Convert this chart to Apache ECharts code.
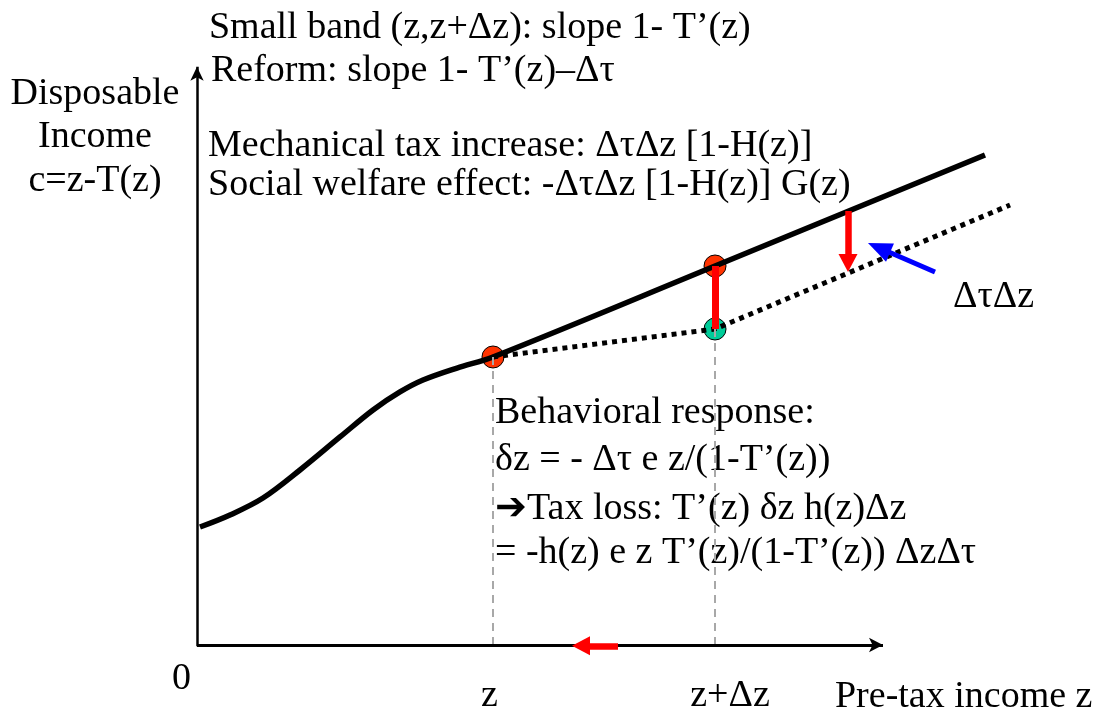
<!DOCTYPE html>
<html>
<head>
<meta charset="utf-8">
<script src="https://cdn.jsdelivr.net/npm/echarts@6/dist/echarts.min.js"></script>
<style>
html,body{margin:0;padding:0;background:#fff;}
#chart{width:1101px;height:713px;}
</style>
</head>
<body>
<div id="chart"></div>
<script>
// ---------- data (abstract units: origin at the axes corner, axes run 0..100) ----------
const taxCurve = [[0.43,20.24],[4.76,22.30],[9.52,25.21],[14.86,30.02],[20.63,35.68],[25.40,40.31],
                  [29.29,43.40],[32.61,45.45],[37.52,47.51],[42.71,49.40],[74.75,65.01],[113.71,84.05]];
const reformCurve = [[42.71,49.40],[74.75,54.20],[117.32,75.47]];
const bandStart = [42.71,49.40];
const bandEndBefore = [74.75,65.01];
const bandEndAfter = [74.75,54.20];
const taxIncreaseArrow = [[93.94,74.44],[93.94,65.52]];
const labelArrow = [[106.49,63.98],[98.41,68.13]];
const responseArrow = [[60.75,-0.15],[55.41,-0.15]];
const topNotes = ['Small band (z,z+\u0394z): slope 1- T\u2019(z)','Reform: slope 1- T\u2019(z)\u2013\u0394\u03c4',
                  'Mechanical tax increase: \u0394\u03c4\u0394z [1-H(z)]','Social welfare effect: -\u0394\u03c4\u0394z [1-H(z)] G(z)'];
const behavioralNotes = ['Behavioral response:','\u03b4z = - \u0394\u03c4 e z/(1-T\u2019(z))',
                  '\u2794Tax loss: T\u2019(z) \u03b4z h(z)\u0394z','= -h(z) e z T\u2019(z)/(1-T\u2019(z)) \u0394z\u0394\u03c4'];
const yTitle = ['Disposable','Income','c=z-T(z)'];
const xTickLabels = ['0','z','z+\u0394z'];
const xTitle = 'Pre-tax income z';
const gapLabel = '\u0394\u03c4\u0394z';

// ---------- layout anchors ----------
const topNoteAnchors = [[1.73,105.84],[2.02,98.37],[1.59,85.67],[1.59,78.91]];
const behavioralAnchors = [[43.0,39.71],[43.0,31.73],[43.0,23.41],[43.0,15.78]];
const yTitleAnchors = [[-14.72,94.51],[-14.72,87.14],[-14.72,79.57]];
const xTickAnchors = [[-2.24,-5.83],[42.21,-8.74],[76.91,-8.74]];
const xTitleAnchor = [92.06,-8.91];
const gapLabelAnchor = [109.09,59.69];

const FONT = "'Liberation Serif','Times New Roman',serif";
const FS = 38;

function textSeries(texts, anchors, align) {
  return {
    type: 'scatter', clip: false, silent: true, symbolSize: 1,
    itemStyle: {color: 'rgba(0,0,0,0)', opacity: 1},
    data: texts.map((t, i) => ({name: t, value: anchors[i]})),
    label: {show: true, position: 'inside', align: align, verticalAlign: 'middle',
            formatter: '{b}', color: '#000', opacity: 1, fontFamily: FONT, fontSize: FS,
            textBorderWidth: 0, textBorderColor: 'transparent'}
  };
}
function markSeries(lines, style, endSymbol, endSize) {
  return {
    type: 'line', data: [], silent: true,
    markLine: {
      silent: true, animation: false,
      symbol: ['none', endSymbol], symbolSize: endSize,
      label: {show: false}, emphasis: {disabled: true},
      lineStyle: style,
      data: lines.map(l => [{coord: l[0]}, {coord: l[1]}])
    }
  };
}

const chart = echarts.init(document.getElementById('chart'), null, {renderer: 'canvas'});
chart.setOption({
  animation: false,
  backgroundColor: '#fff',
  grid: {left: 0, right: 0, top: 0, bottom: 0},
  xAxis: {type: 'value', min: -28.427, max: 130.447, show: false},
  yAxis: {type: 'value', min: -11.664, max: 110.635, show: false},
  series: [
    // guide lines
    markSeries([[[42.71,0],bandStart],[[74.75,0],bandEndAfter]], {color: '#a8a8a8', width: 2, type: [8,6], opacity: 1}, 'none', 0),
    // axes
    markSeries([[[0,0],[98.99,0]]], {color: '#000', width: 3, type: 'solid', opacity: 1}, 'arrow', [11,14]),
    markSeries([[[0,-0.2],[0,99.2]]], {color: '#000', width: 2.5, type: 'solid', opacity: 1}, 'arrow', [10,14]),
    // tax schedule
    {type: 'line', data: taxCurve, smooth: 0.35, clip: false, silent: true, symbol: 'none',
     lineStyle: {color: '#000', width: 5.5}},
    {type: 'line', data: reformCurve, clip: false, silent: true, symbol: 'none',
     lineStyle: {color: '#000', width: 5, type: [5,5], cap: 'butt'}},
    // red segment between points
    markSeries([[bandEndBefore, bandEndAfter]], {color: '#ff0000', width: 7, type: 'solid', opacity: 1}, 'none', 0),
    // arrows
    markSeries([taxIncreaseArrow, responseArrow], {color: '#ff0000', width: 6.5, type: 'solid', opacity: 1}, 'triangle', [19,18]),
    markSeries([labelArrow], {color: '#0000ff', width: 5, type: 'solid', opacity: 1}, 'triangle', [20,24]),
    // points
    {type: 'scatter', clip: false, silent: true, symbolSize: 22, data: [bandStart, bandEndBefore],
     itemStyle: {color: '#ff3300', borderColor: '#000', borderWidth: 1, opacity: 1}},
    {type: 'scatter', clip: false, silent: true, symbolSize: 22, data: [bandEndAfter],
     itemStyle: {color: '#00cc99', borderColor: '#000', borderWidth: 1, opacity: 1}},
    // texts
    textSeries(topNotes, topNoteAnchors, 'left'),
    textSeries(behavioralNotes, behavioralAnchors, 'left'),
    textSeries(yTitle, yTitleAnchors, 'center'),
    textSeries(xTickLabels, xTickAnchors, 'center'),
    textSeries([xTitle], [xTitleAnchor], 'left'),
    textSeries([gapLabel], [gapLabelAnchor], 'left')
  ]
});
</script>
</body>
</html>
